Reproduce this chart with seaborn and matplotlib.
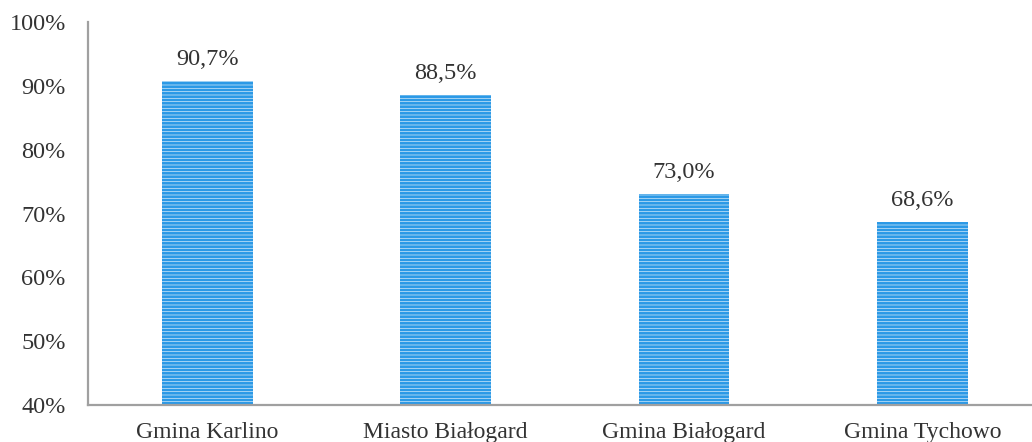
import matplotlib
matplotlib.use("Agg")
import matplotlib.pyplot as plt
import seaborn as sns
import pandas as pd

categories = ["Gmina Karlino", "Miasto Białogard", "Gmina Białogard", "Gmina Tychowo"]
values = [90.7, 88.5, 73.0, 68.6]
y_ticks = [40, 50, 60, 70, 80, 90, 100]

sns.set_style("white")
plt.rcParams["font.family"] = ["Liberation Serif"]
plt.rcParams["hatch.linewidth"] = 0.5

df = pd.DataFrame({"gmina": categories, "udzial": values})

fig = plt.figure(figsize=(10.32, 4.42), dpi=100)
ax = fig.add_axes([0.0853, 0.0837, 0.9147, 0.8663])

sns.barplot(data=df, x="gmina", y="udzial", ax=ax, color="#2b99e6",
            saturation=1, width=0.38, edgecolor="#d4eafa", linewidth=0,
            hatch="-----")

ax.set_ylim(40, 100)
ax.set_xlim(-0.5, 3.46)
ax.set_yticks(y_ticks)
ax.set_yticklabels([f"{t}%" for t in y_ticks])
ax.set_xlabel("")
ax.set_ylabel("")
ax.tick_params(axis="y", length=0, labelsize=17.5, colors="#333333", pad=16)
ax.tick_params(axis="x", length=0, labelsize=17, colors="#333333", pad=12)

labels = [f"{v:.1f}%".replace(".", ",") for v in values]
ax.bar_label(ax.containers[0], labels=labels, padding=8, fontsize=17.5,
             color="#333333")

for side in ["top", "right"]:
    ax.spines[side].set_visible(False)
ax.spines["left"].set_color("#a0a0a0")
ax.spines["left"].set_linewidth(1.6)
ax.spines["bottom"].set_color("#a0a0a0")
ax.spines["bottom"].set_linewidth(1.6)

fig.savefig("out.png", dpi=100)
